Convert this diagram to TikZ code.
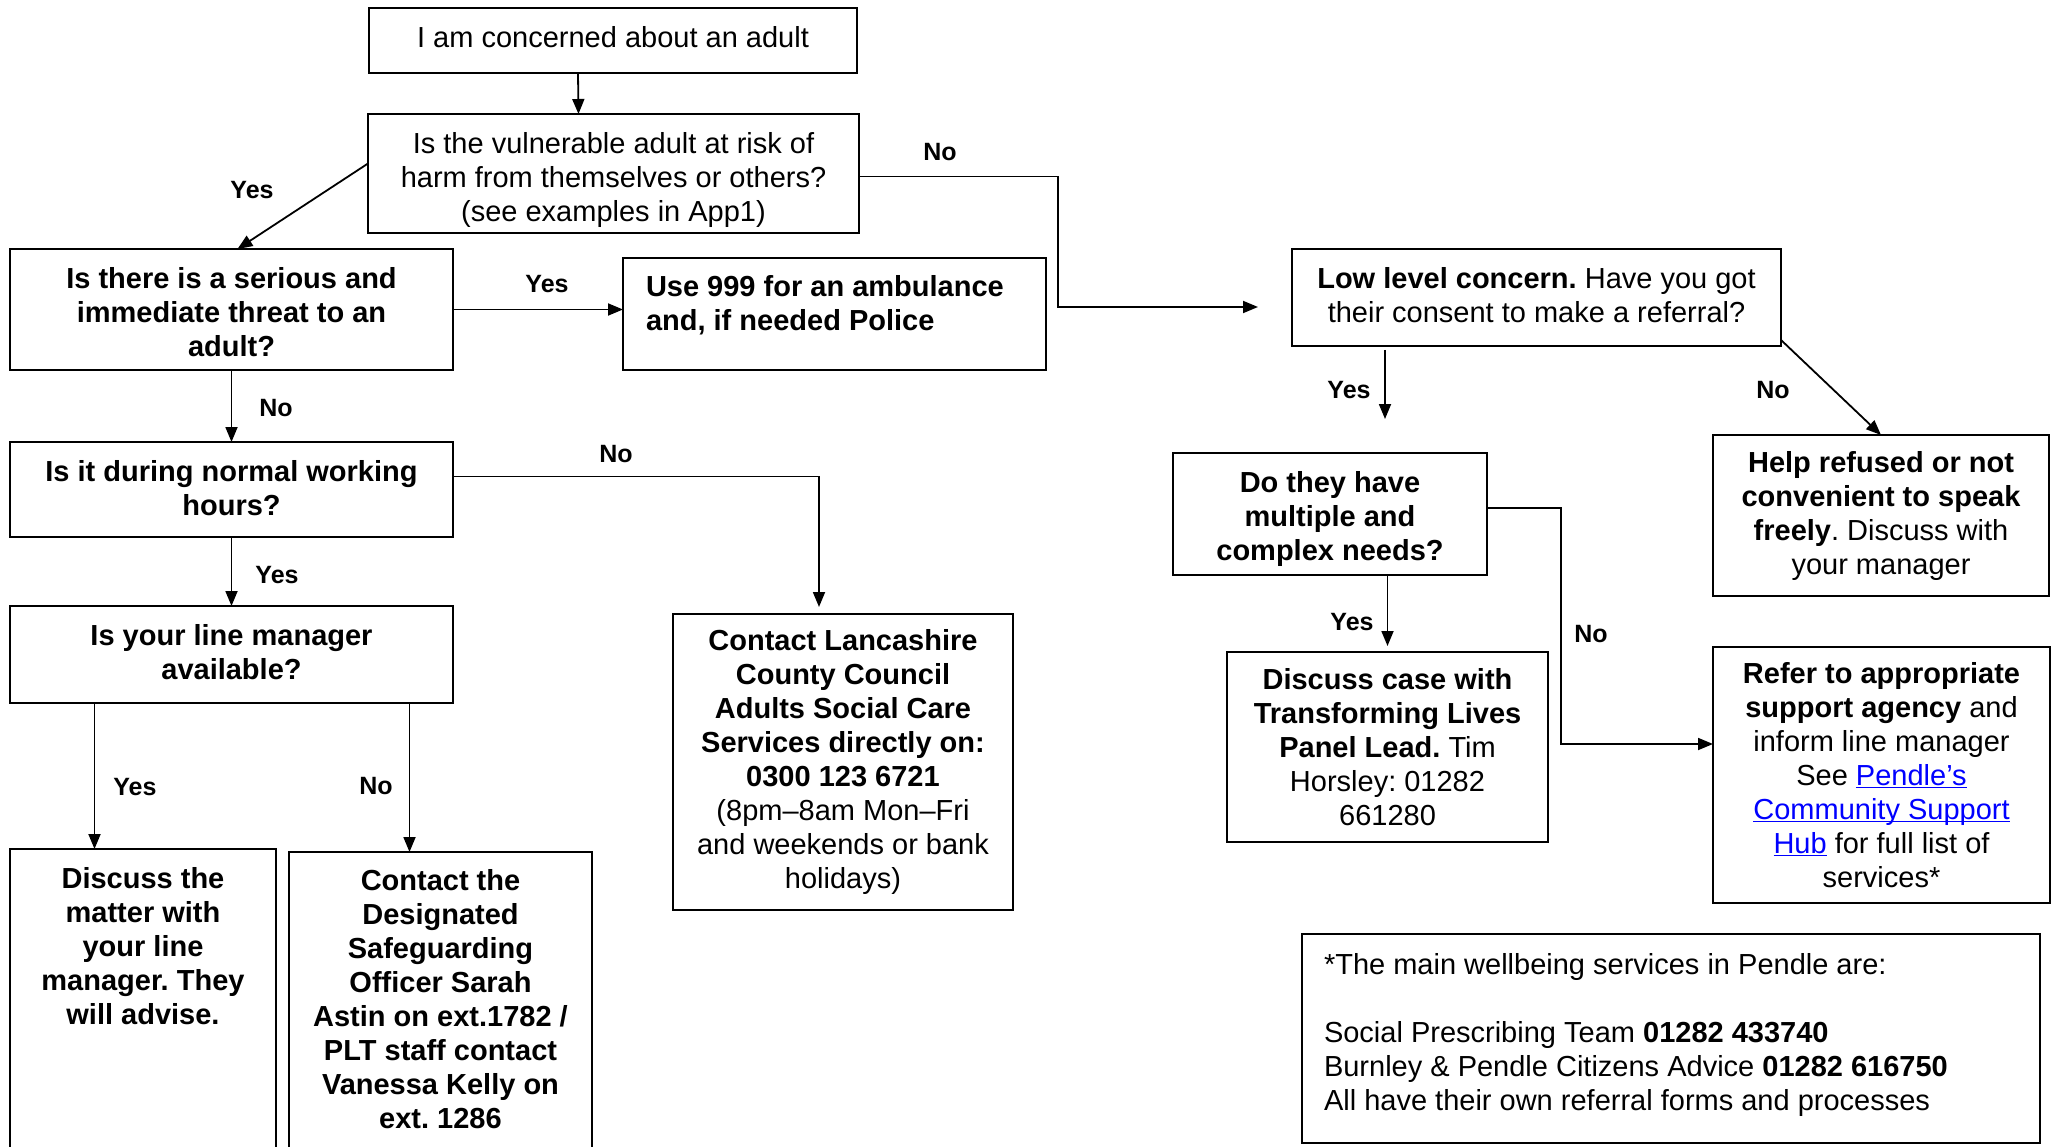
\documentclass[tikz,border=0pt]{standalone}
\usepackage{fontspec}
\setmainfont{Liberation Sans}
\usetikzlibrary{arrows.meta}
\frenchspacing
\newcommand\lnk[1]{\textcolor{blue}{\underline{\smash{#1}}}}
\newcommand\topbox[4]{\parbox[c][#2pt][t]{#1pt}{\vspace*{#3pt}#4}}
\begin{document}
\begin{tikzpicture}[x=1pt,y=-1pt,
  box/.style={draw, line width=2.2pt, inner sep=0pt, outer sep=0pt, anchor=north west, align=center, font=\fontsize{29}{34}\selectfont},
  lbl/.style={font=\fontsize{25}{30}\selectfont\bfseries, inner sep=0pt},
  arr/.style={line width=1.8pt, -{Triangle[length=15pt,width=12pt]}},
  ln/.style={line width=1.8pt}]
\useasboundingbox (0,0) rectangle (2058,1147);
\fill[white] (0,0) rectangle (2058,1147);
\clip (0,0) rectangle (2058,1147);

% boxes
\node[box] (top) at (369,8) {\topbox{488}{65}{15.6}{\centering\strut I am concerned about an adult}};
\node[box] (vul) at (368,114) {\topbox{491}{119}{15.6}{\centering\strut Is the vulnerable adult at risk of\\harm from themselves or others?\\(see examples in App1)}};
\node[box] (serious) at (10,249) {\topbox{443}{121}{16}{\centering\bfseries\strut Is there is a serious and\\immediate threat to an\\adult?}};
\node[box] (u999) at (623,258) {\topbox{423}{112}{14.6}{\raggedright\leftskip=23pt\bfseries\strut Use 999 for an ambulance\\and, if needed Police}};
\node[box] (hours) at (10,442) {\topbox{443}{95}{15.6}{\centering\bfseries\strut Is it during normal working\\hours?}};
\node[box] (line) at (10,606) {\topbox{443}{97}{15.6}{\centering\bfseries\strut Is your line manager\\available?}};
\node[box] (dm) at (10,849) {\topbox{266}{330}{15.6}{\centering\bfseries\strut Discuss the\\matter with\\your line\\manager. They\\will advise.}};
\node[box] (cd) at (289,852) {\topbox{303}{330}{14.6}{\centering\bfseries\strut Contact the\\Designated\\Safeguarding\\Officer Sarah\\Astin on ext.1782 /\\PLT staff contact\\Vanessa Kelly on\\ext. 1286}};
\node[box, minimum width=340pt, minimum height=296pt] (lancs) at (673,614) {\textbf{Contact Lancashire}\\\textbf{County Council}\\\textbf{Adults Social Care}\\\textbf{Services directly on:}\\\textbf{0300 123 6721}\\(8pm–8am Mon–Fri\\and weekends or bank\\holidays)};
\node[box] (low) at (1292,249) {\topbox{489}{97}{15.6}{\centering\strut\textbf{Low level concern.} Have you got\\their consent to make a referral?}};
\node[box, minimum width=336pt, minimum height=161pt] (help) at (1713,435) {\textbf{Help refused or not}\\\textbf{convenient to speak}\\\textbf{freely}. Discuss with\\your manager};
\node[box] (dothey) at (1173,453) {\topbox{314}{122}{15.6}{\centering\bfseries\strut Do they have\\multiple and\\complex needs?}};
\node[box, minimum width=321pt, minimum height=190pt] (dc) at (1227,652) {\textbf{Discuss case with}\\\textbf{Transforming Lives}\\\textbf{Panel Lead.} Tim\\Horsley: 01282\\661280};
\node[box, minimum width=337pt, minimum height=256pt] (refer) at (1713,647) {\textbf{Refer to appropriate}\\\textbf{support agency} and\\inform line manager\\See \lnk{Pendle’s}\\\lnk{Community Support}\\\lnk{Hub} for full list of\\services*};
\node[box] (foot) at (1302,934) {\topbox{738}{209}{16.6}{\raggedright\leftskip=22pt\strut *The main wellbeing services in Pendle are:\\\strut\\Social Prescribing Team \textbf{01282 433740}\\Burnley \& Pendle Citizens Advice \textbf{01282 616750}\\All have their own referral forms and processes}};

% free ends
\coordinate (noA) at (1258,307);
\coordinate (yesL) at (1385,419);

% connectors
\draw[arr] ([xshift=-35pt]top.south) -- ([xshift=-35pt]vul.north);
\draw[arr] ([yshift=10pt]vul.west) -- ([xshift=6pt]serious.north);
\draw[arr] ([yshift=-3pt]vul.east) -- ++(199,0) |- (noA);
\draw[arr] (serious.east) -- (serious.east -| u999.west);
\draw[arr] (serious.south) -- (hours.north);
\draw[arr] ([yshift=13pt]hours.east) -| ([xshift=-24pt,yshift=7pt]lancs.north);
\draw[arr] (hours.south) -- (line.north);
\draw[arr] ([xshift=-137pt]line.south) -- ([xshift=-137pt]line.south |- dm.north);
\draw[arr] ([xshift=178pt]line.south) -- ([xshift=178pt]line.south |- cd.north);
\draw[arr] ([xshift=-151.5pt,yshift=-4pt]low.south) -- (yesL);
\draw[arr] ([yshift=6pt]low.south east) -- (help.north);
\draw[arr] (dothey.south -| dc.north) -- ([yshift=6pt]dc.north);
\draw[arr] ([yshift=6pt]dothey.east) -- ++(74,0) |- ([yshift=31pt]refer.west);

% labels
\node[lbl] (l1) at (940,152) {No};
\node[lbl] (l2) at (252,190) {Yes};
\node[lbl] (l3) at (547,284) {Yes};
\node[lbl] (l4) at (276,408) {No};
\node[lbl] (l5) at (616,454) {No};
\node[lbl] (l6) at (277,575) {Yes};
\node[lbl] (l7) at (135,787) {Yes};
\node[lbl] (l8) at (376,786) {No};
\node[lbl] (l9) at (1349,390) {Yes};
\node[lbl] (l10) at (1773,390) {No};
\node[lbl] (l11) at (1352,622) {Yes};
\node[lbl] (l12) at (1591,634) {No};
\end{tikzpicture}
\end{document}
